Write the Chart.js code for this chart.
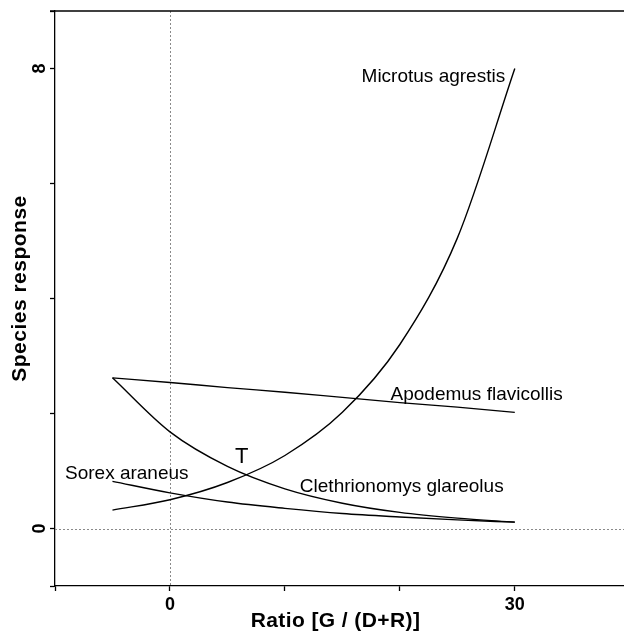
<!DOCTYPE html>
<html>
<head>
<meta charset="utf-8">
<script src="https://cdn.jsdelivr.net/npm/chart.js@4/dist/chart.umd.min.js"></script>
<style>
  html, body { margin: 0; padding: 0; background: #fff; }
  #wrap { width: 624px; height: 631px; }
</style>
</head>
<body>
<div id="wrap"><canvas id="chart" width="624" height="631"></canvas></div>
<script>
// values
const ratio = [-5, 0, 5, 10, 15, 20, 25, 30];
const microtus = [0.32, 0.50, 0.80, 1.27, 2.02, 3.20, 5.05, 8.00];
const apodemus = [2.62, 2.54, 2.45, 2.37, 2.28, 2.19, 2.11, 2.02];
const clethrionomys = [2.62, 1.68, 1.08, 0.69, 0.44, 0.28, 0.18, 0.11];
const sorex = [0.82, 0.62, 0.46, 0.35, 0.26, 0.20, 0.15, 0.11];

const seriesNames = ["Microtus agrestis", "Apodemus flavicollis", "Clethrionomys glareolus", "Sorex araneus"];
const seriesValues = [microtus, apodemus, clethrionomys, sorex];

const xTicks = [-10, 0, 10, 20, 30];
const xTickLabels = ["", "0", "", "", "30"];
const yTicks = [-1, 0, 2, 4, 6, 8, 9];
const yTickLabels = ["", "0", "", "", "", "8", ""];

const xTitle = "Ratio [G / (D+R)]";
const yTitle = "Species response";

// text placed on the plot, anchored in data units
const notes = [
    { text: "Microtus agrestis", x: 16.67, y: 7.77 },
    { text: "Apodemus flavicollis", x: 19.19, y: 2.23 },
    { text: "Clethrionomys glareolus", x: 11.3, y: 0.64 },
    { text: "Sorex araneus", x: -9.13, y: 0.86 },
    { text: "T", x: 5.65, y: 1.14, size: 22 }
];

const FONT = "'Liberation Sans', Arial, sans-serif";

const datasets = seriesNames.map((name, i) => ({
    label: name,
    data: ratio.map((r, j) => ({ x: r, y: seriesValues[i][j] })),
    borderColor: "#000",
    borderWidth: 1.4,
    pointRadius: 0,
    fill: false,
    cubicInterpolationMode: "monotone"
}));

const decor = {
    id: "decor",
    beforeDatasetsDraw(chart) {
        const { ctx, chartArea, scales } = chart;
        const x0 = scales.x.getPixelForValue(0);
        const y0 = scales.y.getPixelForValue(0);
        ctx.save();
        ctx.strokeStyle = "#8a8a8a";
        ctx.lineWidth = 1;
        ctx.setLineDash([2, 2]);
        ctx.beginPath();
        ctx.moveTo(Math.round(x0) + 0.5, chartArea.top);
        ctx.lineTo(Math.round(x0) + 0.5, chartArea.bottom);
        ctx.moveTo(chartArea.left, Math.round(y0) + 0.5);
        ctx.lineTo(chartArea.right, Math.round(y0) + 0.5);
        ctx.stroke();
        ctx.restore();
    },
    afterDraw(chart) {
        const { ctx, chartArea, scales } = chart;
        ctx.save();
        ctx.fillStyle = "#000";

        // top frame line
        ctx.strokeStyle = "#000";
        ctx.lineWidth = 1.3;
        ctx.beginPath();
        ctx.moveTo(chartArea.left - 5, chartArea.top);
        ctx.lineTo(chartArea.right, chartArea.top);
        ctx.stroke();

        // x tick labels
        ctx.font = "bold 18px " + FONT;
        ctx.textAlign = "center";
        ctx.textBaseline = "alphabetic";
        xTicks.forEach((v, i) => {
            if (xTickLabels[i]) ctx.fillText(xTickLabels[i], scales.x.getPixelForValue(v), 609.5);
        });

        // y tick labels, turned like the title
        yTicks.forEach((v, i) => {
            if (!yTickLabels[i]) return;
            ctx.save();
            ctx.translate(45, scales.y.getPixelForValue(v));
            ctx.rotate(-Math.PI / 2);
            ctx.fillText(yTickLabels[i], 0, 0);
            ctx.restore();
        });

        // axis titles
        ctx.font = "bold 21px " + FONT;
        ctx.letterSpacing = "0.4px";
        ctx.fillText(xTitle, 335.5, 627);
        ctx.save();
        ctx.translate(25.5, 288.5);
        ctx.rotate(-Math.PI / 2);
        ctx.letterSpacing = "0.5px";
        ctx.fillText(yTitle, 0, 0);
        ctx.restore();
        ctx.letterSpacing = "0px";

        // series names and the T mark
        ctx.textAlign = "left";
        notes.forEach(n => {
            ctx.font = (n.size || 19) + "px " + FONT;
            ctx.fillText(n.text, scales.x.getPixelForValue(n.x), scales.y.getPixelForValue(n.y));
        });
        ctx.restore();
    }
};

new Chart(document.getElementById("chart"), {
    type: "line",
    data: { datasets },
    options: {
        responsive: false,
        animation: false,
        events: [],
        layout: { autoPadding: false, padding: { left: 50, top: 11, right: 0, bottom: 40 } },
        plugins: { legend: { display: false }, tooltip: { enabled: false } },
        scales: {
            x: {
                type: "linear",
                min: -10,
                max: 39.5,
                afterBuildTicks: s => { s.ticks = xTicks.map(v => ({ value: v })); },
                ticks: { display: false },
                grid: { drawOnChartArea: false, drawTicks: true, tickLength: 5, tickColor: "#000", tickWidth: 1.3 },
                border: { color: "#000", width: 1.3 }
            },
            y: {
                type: "linear",
                min: -1,
                max: 9,
                afterBuildTicks: s => { s.ticks = yTicks.map(v => ({ value: v })); },
                ticks: { display: false },
                grid: { drawOnChartArea: false, drawTicks: true, tickLength: 5, tickColor: "#000", tickWidth: 1.3 },
                border: { color: "#000", width: 1.3 }
            }
        }
    },
    plugins: [decor]
});
</script>
</body>
</html>
